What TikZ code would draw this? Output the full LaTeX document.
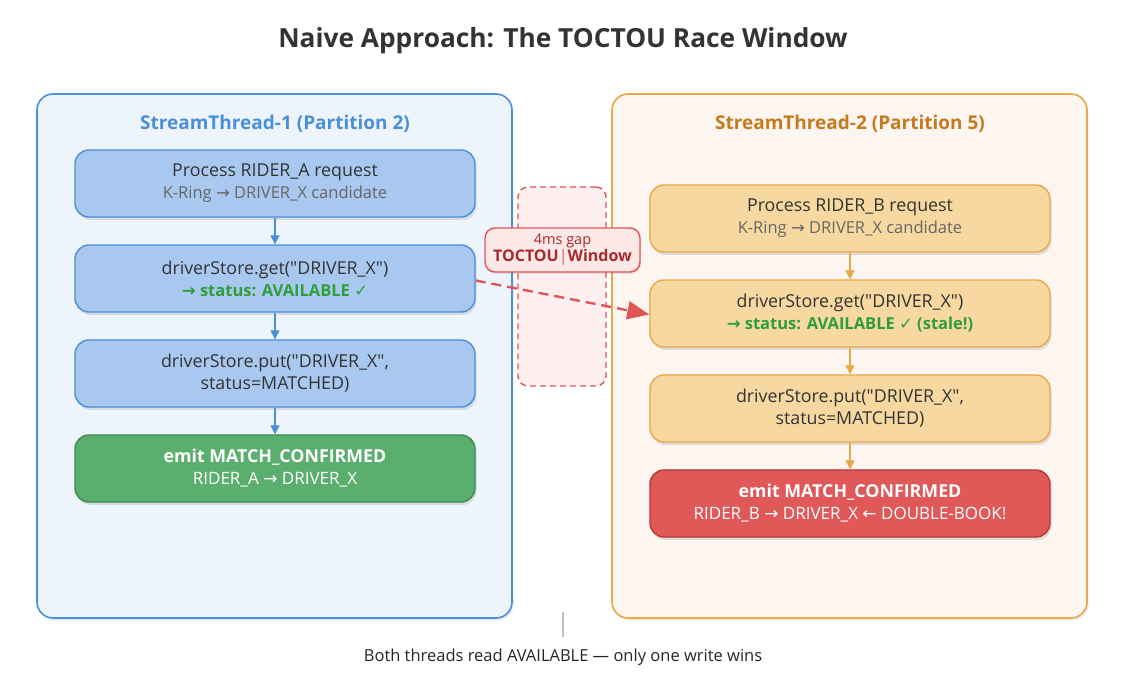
\documentclass[tikz,border=0pt]{standalone}
\usepackage{fontspec}
\setmainfont{Open Sans}
\newfontfamily\symfont{DejaVu Sans}
\newfontfamily\plainfont{Open Sans}
\usetikzlibrary{arrows.meta,shadows}
\definecolor{blueStroke}{HTML}{4A90D9}
\definecolor{blueFill}{HTML}{A8C8F0}
\definecolor{leftBg}{HTML}{EEF4FC}
\definecolor{orangeStroke}{HTML}{E8A84A}
\definecolor{orangeFill}{HTML}{F6D8A0}
\definecolor{rightBg}{HTML}{FDF5EF}
\definecolor{headOrange}{HTML}{C47A1E}
\definecolor{greenFill}{HTML}{5BAF6E}
\definecolor{greenStroke}{HTML}{3D8B4F}
\definecolor{redFill}{HTML}{E05858}
\definecolor{redStroke}{HTML}{B83838}
\definecolor{textDark}{HTML}{333333}
\definecolor{subGray}{HTML}{666666}
\definecolor{greenText}{HTML}{2E9E3A}
\definecolor{gapFill}{HTML}{FDEFEF}
\definecolor{gapStroke}{HTML}{E05555}
\definecolor{labFill}{HTML}{FDE8E8}
\definecolor{labText}{HTML}{A82A2A}
\newcommand{\sy}[1]{{\symfont #1}}
\newcommand{\subfont}{\fontsize{16.5}{22}\selectfont}
\newcommand{\grn}{\fontsize{16.5}{22}\selectfont\bfseries\color{greenText}}
\newcommand{\q}{{\plainfont"}}
\begin{document}
\begin{tikzpicture}[x=1pt,y=-1pt,
  container/.style={draw, line width=1.6pt, rounded corners=16pt, minimum width=475pt, minimum height=524pt,
     drop shadow={shadow xshift=1.5pt, shadow yshift=-2.5pt, opacity=0.08, fill=black}},
  stepbox/.style={draw, line width=1.4pt, rounded corners=14pt, minimum width=400pt, minimum height=67pt,
     align=center, font=\fontsize{17.8}{22}\selectfont, text=textDark,
     drop shadow={shadow xshift=1.5pt, shadow yshift=-3pt, opacity=0.10, fill=black}},
  bluebox/.style={stepbox, fill=blueFill, draw=blueStroke},
  orangebox/.style={stepbox, fill=orangeFill, draw=orangeStroke},
  barrow/.style={draw=blueStroke, line width=1.4pt, -{Triangle[length=9pt,width=9pt]}},
  oarrow/.style={draw=orangeStroke, line width=1.4pt, -{Triangle[length=9pt,width=9pt]}},
  header/.style={font=\fontsize{19}{22}\selectfont\bfseries}
]
\useasboundingbox (0,0) rectangle (1125,700);
\fill[white] (0,0) rectangle (1125,700);

\node[font=\fontsize{26.3}{30}\selectfont\bfseries, text=textDark] (title) at (563,41) {Naive Approach: The TOCTOU Race Window};

% containers
\node[container, draw=blueStroke, fill=leftBg] (leftc) at (274.5,356) {};
\node[container, draw=orangeStroke, fill=rightBg] (rightc) at (849.5,356) {};
\node[header, text=blueStroke] (lhead) at (275,124) {StreamThread-1 (Partition 2)};
\node[header, text=headOrange] (rhead) at (850,124) {StreamThread-2 (Partition 5)};

% TOCTOU gap region
\node[draw=gapStroke, dashed, dash pattern=on 6pt off 4pt, line width=1.4pt, fill=gapFill, rounded corners=10pt,
  minimum width=88pt, minimum height=199pt] (gap) at (562,286.5) {};

% left steps
\node[bluebox] (L1) at (275,183.5) {Process RIDER\_A request\\{\subfont\color{subGray}K-Ring \sy{→} DRIVER\_X candidate}};
\node[bluebox] (L2) at (275,278.5) {driverStore.get(\q DRIVER\_X\q)\\{\grn \sy{→} status: AVAILABLE \sy{✓}}};
\node[bluebox] (L3) at (275,373.5) {driverStore.put(\q DRIVER\_X\q,\\status=MATCHED)};
\node[stepbox, fill=greenFill, draw=greenStroke, text=white] (L4) at (275,468.5) {{\bfseries emit MATCH\_CONFIRMED}\\{\fontsize{17}{22}\selectfont RIDER\_A \sy{→} DRIVER\_X}};

% right steps
\node[orangebox] (R1) at (850,218.5) {Process RIDER\_B request\\{\subfont\color{subGray}K-Ring \sy{→} DRIVER\_X candidate}};
\node[orangebox] (R2) at (850,313.5) {driverStore.get(\q DRIVER\_X\q)\\{\grn \sy{→} status: AVAILABLE \sy{✓} (stale!)}};
\node[orangebox] (R3) at (850,408.5) {driverStore.put(\q DRIVER\_X\q,\\status=MATCHED)};
\node[stepbox, fill=redFill, draw=redStroke, text=white] (R4) at (850,503.5) {{\bfseries emit MATCH\_CONFIRMED}\\{\fontsize{17}{22}\selectfont RIDER\_B \sy{→} DRIVER\_X \sy{←} DOUBLE-BOOK!}};

% arrows
\draw[barrow] (L1) -- (L2);
\draw[barrow] (L2) -- (L3);
\draw[barrow] (L3) -- (L4);
\draw[oarrow] (R1) -- (R2);
\draw[oarrow] (R2) -- (R3);
\draw[oarrow] (R3) -- (R4);

% race arrow
\coordinate (rs) at ([yshift=-2pt]L2.east);
\coordinate (re) at ([yshift=-1pt]R2.west);
\draw[draw=gapStroke, line width=2.4pt, dash pattern=on 10pt off 6pt, -{Triangle[length=22pt,width=18pt]}] (rs) -- (re);

% label
\node[draw=gapStroke, line width=1.4pt, fill=labFill, rounded corners=10pt, minimum width=155pt, minimum height=44pt,
  align=center, text=labText, font=\fontsize{16}{18}\selectfont,
  drop shadow={shadow xshift=1pt, shadow yshift=-2pt, opacity=0.08, fill=black}] (lab) at (562.5,250)
  {{\fontsize{14.5}{15}\selectfont 4ms gap}\\[-1pt]{\bfseries TOCTOU}{\color{labText!70}\fontsize{16}{18}\selectfont|}{\bfseries Window}};

% footer
\coordinate (tk1) at (563,612);
\coordinate (tk2) at (563,637);
\draw[draw=black!25, line width=1.2pt] (tk1) -- (tk2);
\node[font=\fontsize{16.5}{19}\selectfont, text=black!85] (foot) at (563,657) {Both threads read AVAILABLE — only one write wins};
\end{tikzpicture}
\end{document}
